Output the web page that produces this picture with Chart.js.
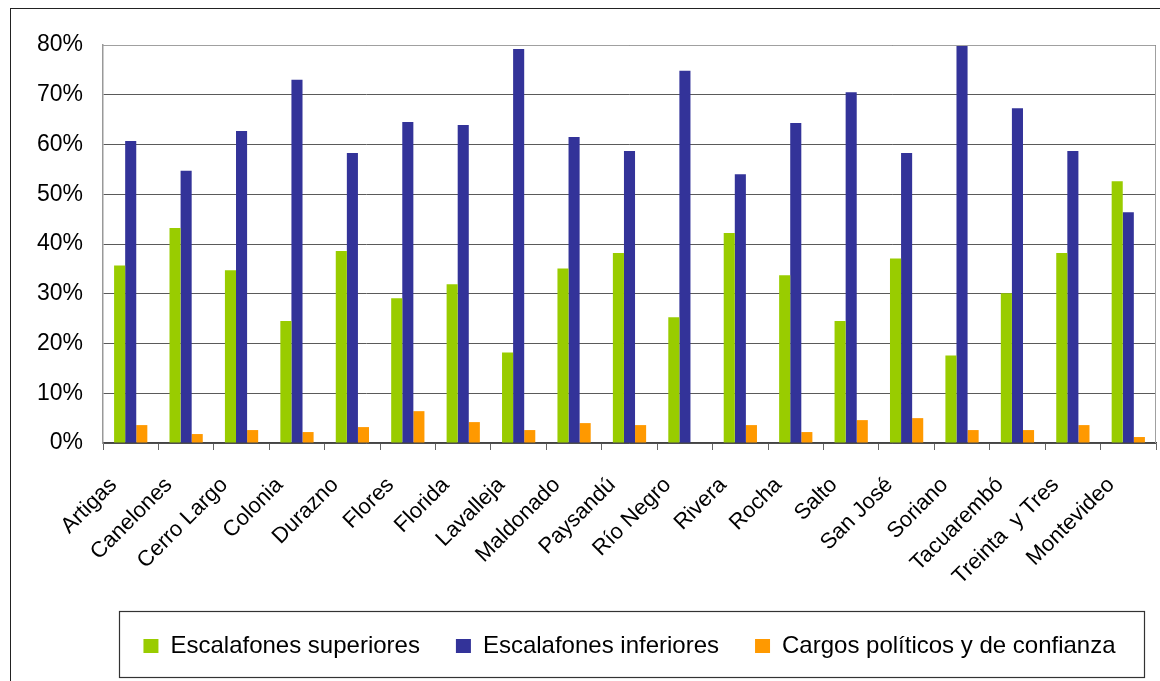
<!DOCTYPE html>
<html>
<head>
<meta charset="utf-8">
<script src="https://cdn.jsdelivr.net/npm/chart.js@4.4.1/dist/chart.umd.min.js"></script>
<style>
  body { margin: 0; background: #fff; overflow: hidden; }
  #wrap { position: relative; width: 1160px; height: 681px; }
  #frame { position: absolute; left: 10px; top: 8px; width: 1170px; height: 700px;
           border: 1.5px solid #222; pointer-events: none; }
</style>
</head>
<body>
<div id="wrap">
  <canvas id="depts" width="1160" height="681"></canvas>
  <div id="frame"></div>
</div>
<script>
// departamentos
let categories = [
  "Artigas", "Canelones", "Cerro Largo", "Colonia", "Durazno", "Flores",
  "Florida", "Lavalleja", "Maldonado", "Paysandú", "Río Negro", "Rivera",
  "Rocha", "Salto", "San José", "Soriano", "Tacuarembó", "Treinta  y Tres",
  "Montevideo"
];

// percentages
let superiores = [35.7, 43.2, 34.7, 24.5, 38.6, 29.1, 31.9, 18.2, 35.1, 38.2,
                  25.3, 42.2, 33.7, 24.5, 37.1, 17.6, 30.1, 38.2, 52.6];
let inferiores = [60.7, 54.7, 62.7, 73.0, 58.3, 64.5, 63.9, 79.2, 61.5, 58.7,
                  74.8, 54.0, 64.3, 70.5, 58.3, 80.0, 67.3, 58.7, 46.4];
let cargos = [3.6, 1.8, 2.6, 2.2, 3.2, 6.4, 4.2, 2.6, 4.0, 3.6,
              0, 3.6, 2.2, 4.6, 5.0, 2.6, 2.6, 3.6, 1.2];

let seriesNames = ["Escalafones superiores", "Escalafones inferiores", "Cargos políticos y de confianza"];
let yMax = 80;
let yStep = 10;

const FONT = "'Liberation Sans', Arial, sans-serif";

// border round the plot area and round the legend
const boxes = {
  id: "boxes",
  afterDraw(chart) {
    const c = chart.ctx;
    const a = chart.chartArea;
    c.save();
    c.strokeStyle = "#a0a0a0";
    c.lineWidth = 1;
    c.beginPath();
    c.moveTo(a.left, a.top + 0.5);
    c.lineTo(a.right - 0.5, a.top + 0.5);
    c.lineTo(a.right - 0.5, a.bottom);
    c.stroke();

    const hb = chart.legend.legendHitBoxes;
    if (hb && hb.length) {
      const top = hb[0].top;
      const h = hb[0].height;
      c.strokeStyle = "#333";
      c.lineWidth = 1.2;
      c.strokeRect(a.left + 16.5, top - 22.5, a.width - 28, h + 42);
    }
    c.restore();
  }
};

let ctx = document.getElementById("depts");
let chart = new Chart(ctx, {
  type: "bar",
  data: {
    labels: categories,
    datasets: [
      { label: seriesNames[0], data: superiores, backgroundColor: "#99cc00" },
      { label: seriesNames[1], data: inferiores, backgroundColor: "#333399" },
      { label: seriesNames[2], data: cargos, backgroundColor: "#ff9900" }
    ]
  },
  options: {
    responsive: false,
    animation: false,
    layout: { padding: { left: 0, right: 4, top: 45, bottom: 13 } },
    datasets: {
      bar: { categoryPercentage: 0.6, barPercentage: 1.0 }
    },
    scales: {
      x: {
        grid: {
          offset: true,
          drawOnChartArea: false,
          drawTicks: true,
          tickLength: 7,
          color: "#666"
        },
        border: { color: "#444", width: 1.5 },
        ticks: {
          minRotation: 45,
          maxRotation: 45,
          autoSkip: false,
          padding: 5,
          color: "#000",
          font: { family: FONT, size: 22 },
          // trailing gap so the label end sits left of the group, like the original
          callback: (v, i) => categories[i] + "    "
        },
        afterFit(scale) { scale.height = 155; }
      },
      y: {
        min: 0,
        max: yMax,
        grid: {
          drawTicks: false,
          color: "#5a5a5a",
          lineWidth: 1
        },
        border: { color: "#999", width: 1.5 },
        ticks: {
          stepSize: yStep,
          padding: 20,
          color: "#000",
          font: { family: FONT, size: 23 },
          callback: v => v + "%"
        },
        afterFit(scale) { scale.width = 103; }
      }
    },
    plugins: {
      tooltip: { enabled: false },
      legend: {
        position: "bottom",
        fullSize: false,
        labels: {
          boxWidth: 15,
          boxHeight: 14,
          padding: 36,
          color: "#000",
          font: { family: FONT, size: 24 }
        }
      }
    }
  },
  plugins: [boxes]
});
</script>
</body>
</html>
